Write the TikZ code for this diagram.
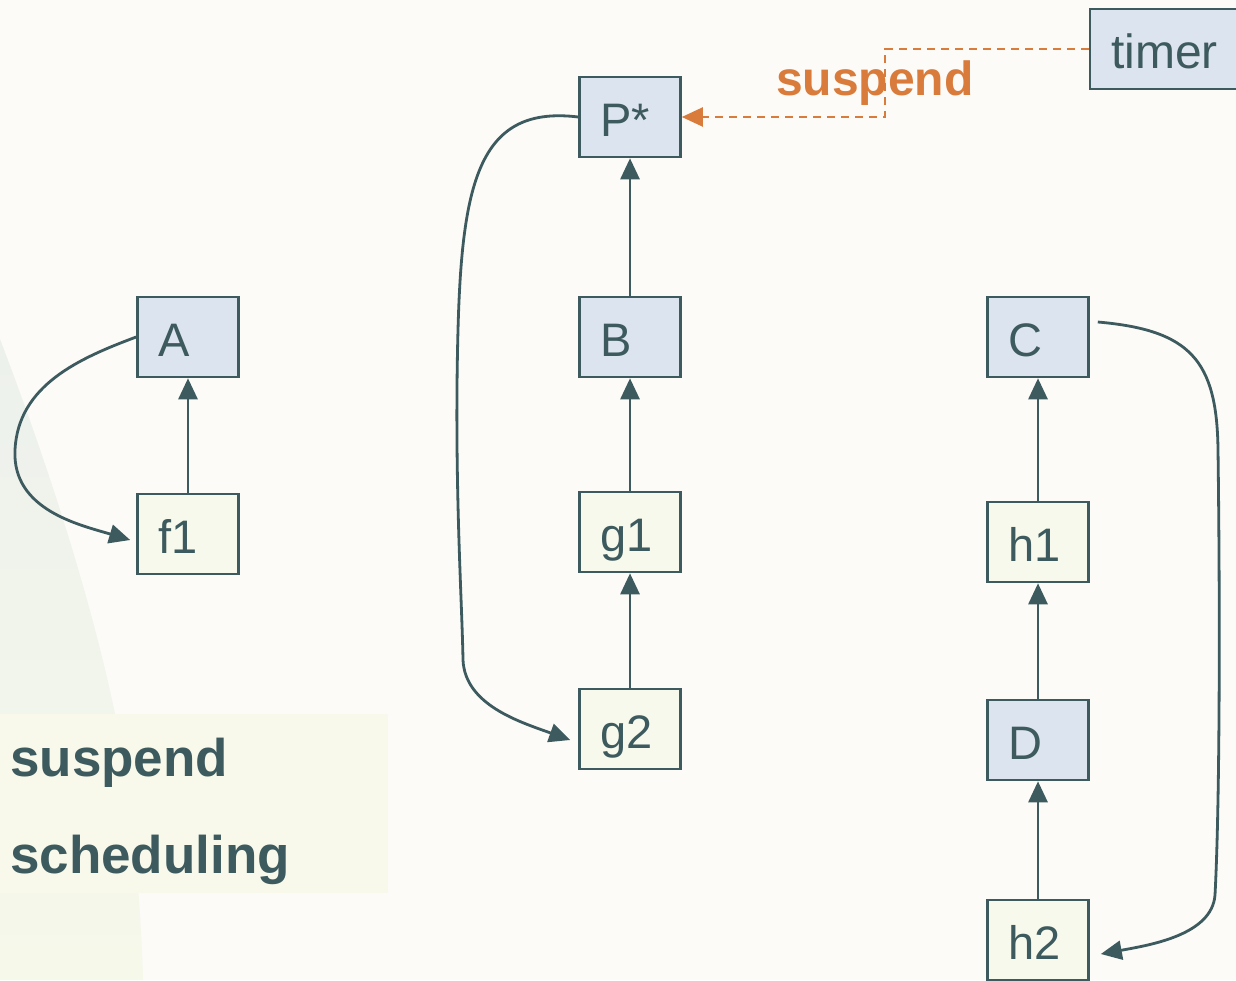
\documentclass[tikz,border=0pt]{standalone}
\usepackage{fontspec}
\setmainfont{Liberation Sans}
\usetikzlibrary{arrows.meta}
\definecolor{bgc}{HTML}{FCFBF8}
\definecolor{edgec}{HTML}{3D5A5E}
\definecolor{bluec}{HTML}{DCE4F0}
\definecolor{ylwc}{HTML}{F7F9EC}
\definecolor{orangec}{HTML}{D97B3A}
\definecolor{swtop}{HTML}{EDF1EC}
\definecolor{swbot}{HTML}{F6F8EA}
\definecolor{panelc}{HTML}{F8F9EB}
\tikzset{
  box/.style={draw=edgec, line width=2.6pt, minimum height=80pt,
    text height=38pt, text depth=0pt, inner ysep=0pt, inner xsep=21pt,
    text width=59pt, align=left, text=edgec,
    font=\fontsize{47}{50}\selectfont},
  bluebox/.style={box, fill=bluec},
  ylwbox/.style={box, fill=ylwc},
  arr/.style={draw=edgec, line width=2.8pt,
    -{Triangle[length=21pt,width=19pt]}},
  oarr/.style={draw=orangec, line width=2.2pt, dash pattern=on 8pt off 6pt,
    -{Triangle[length=21pt,width=19pt]}},
  biglabel/.style={anchor=base west, inner sep=0pt, text=edgec,
    font=\fontsize{53}{60}\selectfont\bfseries},
}
\begin{document}
\begin{tikzpicture}[x=1pt, y=-1pt]
  % canvas
  \fill[bgc] (0,0) rectangle (1236,980);
  \useasboundingbox (0,0) rectangle (1236,980);
  \begin{scope}
    \clip (0,0) rectangle (1236,980);
    % soft swoosh at the left edge
    \shade[top color=swtop, bottom color=swbot]
      (0,339) .. controls (50,470) and (110,650) .. (130,800)
      .. controls (138,870) and (142,940) .. (143,980)
      -- (0,980) -- cycle;
    % label panel
    \fill[panelc] (0,714) rectangle (388,893);

    % nodes
    \node[bluebox] (A)  at (188,337) {A};
    \node[ylwbox]  (f1) at (188,534) {f1};
    \node[bluebox] (P)  at (630,117) {P*};
    \node[bluebox] (B)  at (630,337) {B};
    \node[ylwbox]  (g1) at (630,532) {g1};
    \node[ylwbox]  (g2) at (630,729) {g2};
    \node[bluebox] (C)  at (1038,337) {C};
    \node[ylwbox]  (h1) at (1038,542) {h1};
    \node[bluebox] (D)  at (1038,740) {D};
    \node[ylwbox]  (h2) at (1038,940) {h2};
    \node[bluebox, text width=108pt, font=\fontsize{48}{50}\selectfont] (timer) at (1165,49) {timer};

    % chain arrows
    \draw[arr] (f1) -- (A);
    \draw[arr] (B) -- (P);
    \draw[arr] (g1) -- (B);
    \draw[arr] (g2) -- (g1);
    \draw[arr] (h1) -- (C);
    \draw[arr] (D) -- (h1);
    \draw[arr] (h2) -- (D);

    % loops back to the leaf frames
    \draw[arr] (A.west) .. controls (80,358) and (18,385) .. (15,450)
      .. controls (12,510) and (80,525) .. ([xshift=-6pt,yshift=-6pt]f1.west);
    \draw[arr] (P.west) .. controls (480,105) and (462,180) .. (458,330)
      .. controls (454,480) and (462,600) .. (463,660)
      .. controls (465,705) and (520,722) .. ([xshift=-8pt,yshift=-11pt]g2.west);
    \draw[arr] ([xshift=8pt,yshift=15pt]C.east) .. controls (1190,330) and (1217,360) .. (1218,450)
      .. controls (1220,600) and (1220,800) .. (1215,895)
      .. controls (1212,935) and (1150,945) .. ([xshift=11pt,yshift=-14pt]h2.east);

    % suspend signal from the timer
    \node[anchor=base west, inner sep=0pt, text=orangec,
      font=\fontsize{48}{52}\selectfont\bfseries] (slabel) at (776,95) {suspend};
    \coordinate (k1) at (885,49);
    \coordinate (k2) at (885,117);
    \draw[oarr] (timer.west) -- (k1) -- (k2) -- (P.east);

    % panel text
    \node[biglabel] (t1) at (10,776) {suspend};
    \node[biglabel] (t2) at (10,873) {scheduling};
  \end{scope}
\end{tikzpicture}
\end{document}
